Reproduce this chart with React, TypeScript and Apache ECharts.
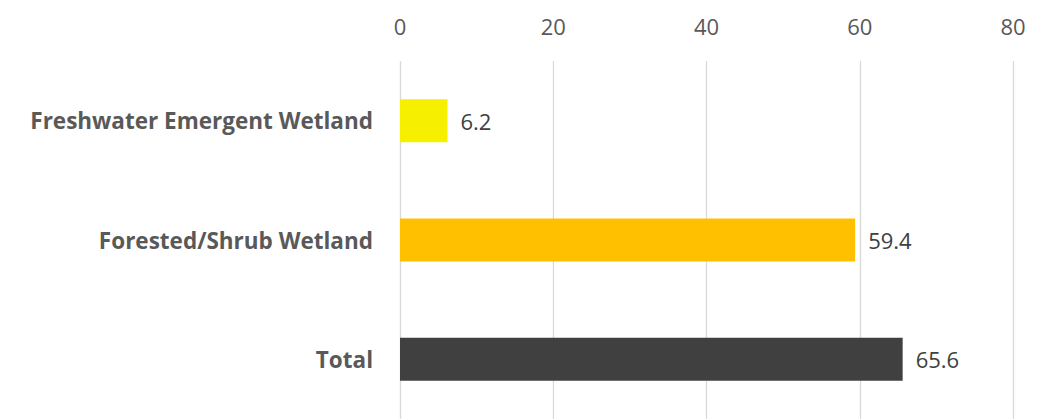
import React, { useEffect, useRef } from "react";
import * as echarts from "echarts";

const categories = ["Freshwater Emergent Wetland", "Forested/Shrub Wetland", "Total"];
const values = [6.2, 59.4, 65.6];
const barColors = ["#F6F000", "#FFC000", "#404040"];
const axisMin = 0;
const axisMax = 80;
const axisInterval = 20;

export default function App() {
  const ref = useRef<HTMLDivElement>(null);
  useEffect(() => {
    if (!ref.current) return;
    const chart = echarts.init(ref.current, null, { renderer: "svg" });
    const font = "Open Sans";
    chart.setOption({
      animation: false,
      grid: { left: 400, top: 61, width: 613, height: 361, containLabel: false },
      xAxis: {
        type: "value",
        position: "top",
        min: axisMin,
        max: axisMax,
        interval: axisInterval,
        axisLine: { show: false },
        axisTick: { show: false },
        axisLabel: { color: "#595959", fontSize: 22, fontFamily: font, margin: 24 },
        splitLine: { show: true, lineStyle: { color: "#D9D9D9", width: 1.3 } },
      },
      yAxis: {
        type: "category",
        inverse: true,
        data: categories,
        axisLine: { show: false },
        axisTick: { show: false },
        axisLabel: { color: "#595959", fontSize: 22.5, fontWeight: "bold", fontFamily: font, margin: 27 },
      },
      series: [
        {
          type: "bar",
          barWidth: 43,
          data: values.map((v, i) => ({ value: v, itemStyle: { color: barColors[i] } })),
          label: {
            show: true,
            position: "right",
            distance: 13,
            color: "#404040",
            fontSize: 22,
            fontFamily: font,
          },
        },
      ],
    });
    return () => chart.dispose();
  }, []);
  return (
    <div
      ref={ref}
      style={{ position: "absolute", left: 0, top: 0, width: 1043, height: 419, background: "#fff" }}
    />
  );
}
